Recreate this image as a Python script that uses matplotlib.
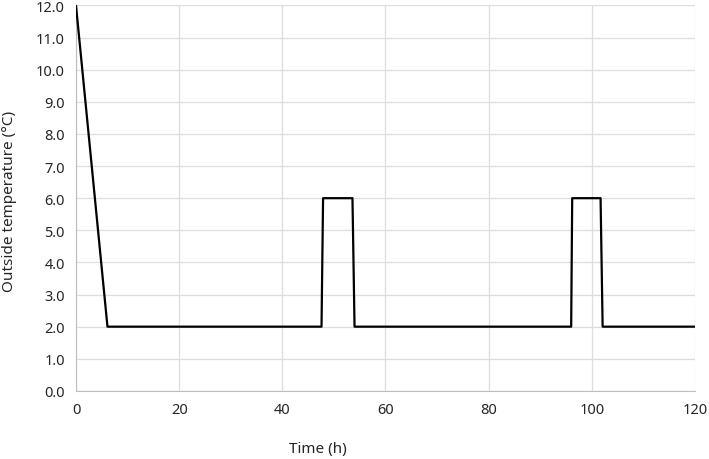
import matplotlib
matplotlib.use("Agg")
import matplotlib.pyplot as plt

# outside temperature profile (h, °C)
time_h = [0, 6.1, 47.6, 47.9, 53.6, 54.0, 96.0, 96.2, 101.7, 102.1, 120]
temp_c = [12, 2, 2, 6, 6, 2, 2, 6, 6, 2, 2]

xticks = [0, 20, 40, 60, 80, 100, 120]
yticks = [i * 1.0 for i in range(13)]

plt.rcParams['font.family'] = ['Noto Sans', 'DejaVu Sans']

fig = plt.figure(figsize=(7.09, 4.6), dpi=100)
ax = fig.add_axes([0.1072, 0.148, 0.873, 0.838])

ax.plot(time_h, temp_c, color='black', lw=1.6, zorder=3)

ax.set_xlim(0, 120)
ax.set_ylim(0, 12)
ax.set_xticks(xticks)
ax.set_yticks(yticks)
ax.set_yticklabels([f"{v:.1f}" for v in yticks])
ax.grid(True, color='#dddddd', lw=0.9)
ax.set_axisbelow(True)

for s in ['top', 'right']:
    ax.spines[s].set_visible(False)
for s in ['left', 'bottom']:
    ax.spines[s].set_color('#bfbfbf')
ax.tick_params(length=0, labelsize=10.5, colors='#262626', pad=8)

# axis titles sit where the original put them (x title left of centre)
fig.text(318 / 709, 1 - 450 / 460, "Time (h)", fontsize=11, color='#262626',
         ha='center', va='center')
fig.text(10 / 709, 1 - 201 / 460, "Outside temperature (°C)", fontsize=11,
         color='#262626', ha='center', va='center', rotation=90)

fig.savefig("out.png", dpi=100)
